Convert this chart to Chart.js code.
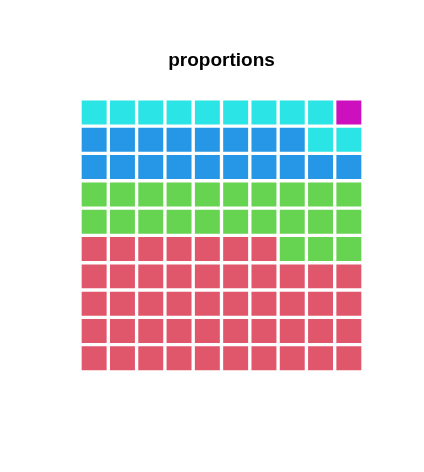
<!DOCTYPE html>
<html>
<head>
<meta charset="utf-8">
<script src="https://cdn.jsdelivr.net/npm/chart.js@4"></script>
<style>
html,body{margin:0;padding:0;background:#fff;}
canvas{display:block;}
</style>
</head>
<body>
<canvas id="c" width="424" height="472"></canvas>
<script>
const title = "proportions";
const categories = ["A", "B", "C", "D", "E"];
const counts = [47, 23, 18, 11, 1];
const colors = ["#e0566b", "#67d451", "#2597e6", "#2ae4e6", "#cc10be"];
const gridCols = 10;
const gridRows = 10;

// map each cell index (filled left→right, bottom→top) to a category
const cellCat = [];
counts.forEach((n, k) => { for (let i = 0; i < n; i++) cellCat.push(k); });

const colLabels = Array.from({length: gridCols}, (_, c) => String(c + 1));
const datasets = [];
for (let r = 0; r < gridRows; r++) {
  const bg = [];
  const names = [];
  for (let c = 0; c < gridCols; c++) {
    const k = cellCat[r * gridCols + c];
    bg.push(k === undefined ? "#ffffff" : colors[k]);
    names.push(k === undefined ? "" : categories[k]);
  }
  datasets.push({
    label: "row " + (r + 1),
    data: Array(gridCols).fill(1),
    backgroundColor: bg,
    borderColor: "#ffffff",
    borderWidth: 2,
    borderSkipped: false,
    barPercentage: 1,
    categoryPercentage: 1,
    names: names
  });
}

new Chart(document.getElementById("c"), {
  type: "bar",
  data: { labels: colLabels, datasets: datasets },
  options: {
    responsive: false,
    animation: false,
    layout: { padding: { left: 80, right: 61, top: 0, bottom: 100 } },
    scales: {
      x: { stacked: true, display: false },
      y: { stacked: true, display: false, min: 0, max: gridRows }
    },
    plugins: {
      legend: { display: false },
      tooltip: {
        callbacks: {
          label: (ctx) => ctx.dataset.names[ctx.dataIndex]
        }
      },
      title: {
        display: true,
        text: title,
        fullSize: false,
        color: "#000000",
        font: { family: "'Liberation Sans', Arial, sans-serif", size: 19, weight: "bold", lineHeight: 1.2 },
        padding: { top: 49, bottom: 27 }
      }
    }
  }
});
</script>
</body>
</html>
